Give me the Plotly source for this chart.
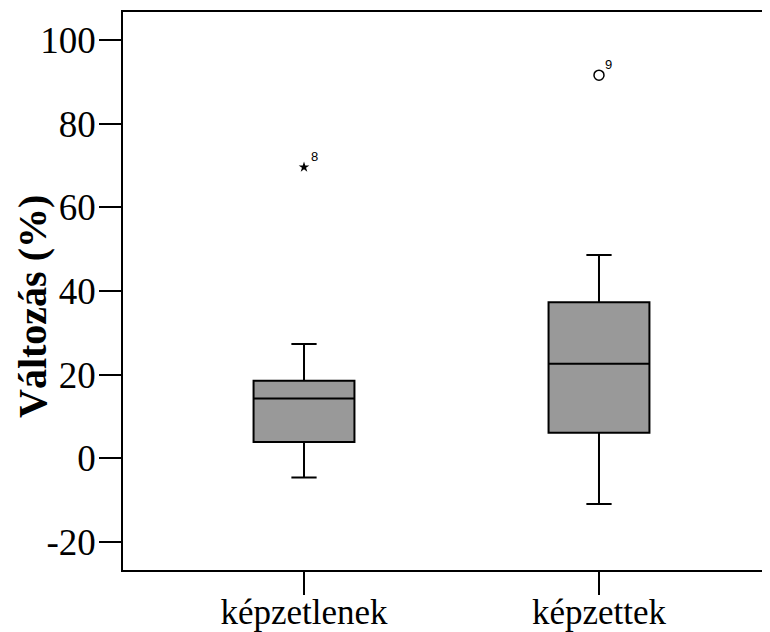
import plotly.graph_objects as go

categories = ["képzetlenek", "képzettek"]
q1 = [3.9, 6.1]
median = [14.3, 22.6]
q3 = [18.55, 37.3]
lower_whisker = [-4.6, -10.9]
upper_whisker = [27.3, 48.6]

extreme_cat = ["képzetlenek"]
extreme_val = [69.6]
extreme_id = ["8"]
outlier_cat = ["képzettek"]
outlier_val = [91.6]
outlier_id = ["9"]

y_ticks = [-20, 0, 20, 40, 60, 80, 100]
y_ticktext = ["-20", "0", "20", "40", "60", "80", "100"]

fig = go.Figure()
fig.add_trace(go.Box(
    x=categories, q1=q1, median=median, q3=q3,
    lowerfence=lower_whisker, upperfence=upper_whisker,
    fillcolor="#999999", line=dict(color="black", width=2),
    width=0.342, whiskerwidth=0.25, boxpoints=False, showlegend=False,
    hoverinfo="skip",
))
fig.add_trace(go.Scatter(
    x=extreme_cat, y=extreme_val, mode="markers",
    marker=dict(symbol="star", size=8, color="black"),
    showlegend=False,
))
fig.add_trace(go.Scatter(
    x=outlier_cat, y=outlier_val, mode="markers",
    marker=dict(symbol="circle-open", size=10, color="black", line=dict(width=1.5)),
    showlegend=False,
))
for c, v, t in list(zip(extreme_cat, extreme_val, extreme_id)) + list(zip(outlier_cat, outlier_val, outlier_id)):
    fig.add_annotation(x=c, y=v, text=t, showarrow=False, xshift=10, yshift=11,
                       font=dict(family="Liberation Sans", size=13, color="black"))

fig.add_annotation(
    xref="paper", yref="paper", x=0, y=0.5, xanchor="center", yanchor="middle",
    xshift=-91, yshift=-16, text="<b>Változás (%)</b>", textangle=-90, showarrow=False,
    font=dict(family="Liberation Serif", size=40, color="black"),
)

fig.update_layout(
    width=762, height=624,
    margin=dict(l=115, r=0, t=4, b=62),
    paper_bgcolor="white", plot_bgcolor="white",
    font=dict(family="Liberation Serif", color="black"),
    xaxis=dict(
        type="category", range=[-0.6136, 1.5797],
        showline=True, linecolor="black", linewidth=1.5, mirror=True,
        ticks="outside", ticklen=23, tickwidth=1.5, tickcolor="black",
        tickfont=dict(family="Liberation Serif", size=35),
        ticklabelstandoff=-13,
        showgrid=False, zeroline=False, automargin=False,
    ),
    yaxis=dict(
        range=[-26.7, 106.7], tickvals=y_ticks, ticktext=y_ticktext,
        showline=True, linecolor="black", linewidth=1.5,
        ticks="outside", ticklen=22, tickwidth=1.5, tickcolor="black",
        tickfont=dict(family="Liberation Serif", size=37),
        ticklabelstandoff=-4,
        showgrid=False, zeroline=False, automargin=False,
    ),
)
fig.write_html("out.html")
